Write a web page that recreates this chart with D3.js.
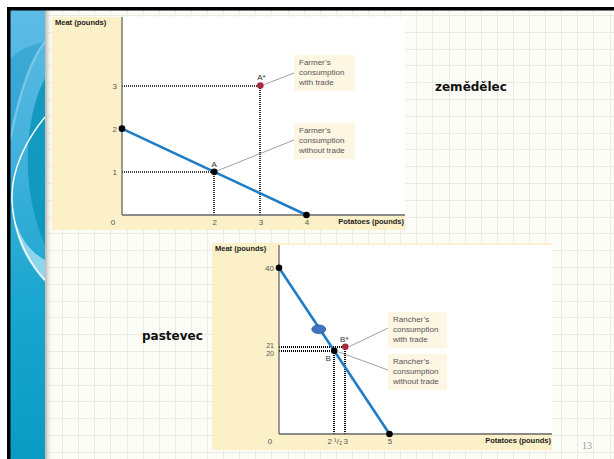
<!DOCTYPE html>
<html><head><meta charset="utf-8">
<script src="https://cdn.jsdelivr.net/npm/d3@7"></script>
<style>html,body{margin:0;padding:0;background:#fff;overflow:hidden}svg{display:block}</style>
</head><body>
<script>
// ---------- data ----------
const farmerPPF = [{x:0, y:2}, {x:4, y:0}];
const farmerPoints = [
  {label:"A",  x:2, y:1, trade:false},
  {label:"A*", x:3, y:3, trade:true}
];
const farmerXTicks = [2, 3, 4];
const farmerYTicks = [1, 2, 3];
const farmerCallouts = [
  {lines:["Farmer\u2019s","consumption","with trade"], trade:true},
  {lines:["Farmer\u2019s","consumption","without trade"], trade:false}
];

const rancherPPF = [{x:0, y:40}, {x:5, y:0}];
const rancherPoints = [
  {label:"B",  x:2.5, y:20, trade:false},
  {label:"B*", x:3,   y:21, trade:true}
];
const rancherXTicks = [2.5, 3, 5];
const rancherXTickLabels = ["2 \u00B9/\u2082", "3", "5"];
const rancherYTicks = [20, 21, 40];
const rancherCallouts = [
  {lines:["Rancher\u2019s","consumption","with trade"], trade:true},
  {lines:["Rancher\u2019s","consumption","without trade"], trade:false}
];
const titles = {farmer:"zemědělec", rancher:"pastevec"};
const pageNumber = "13";

// ---------- setup ----------
const W = 614, H = 459;
const svg = d3.select("body").append("svg").attr("width", W).attr("height", H);
const defs = svg.append("defs");

// slide background
svg.append("rect").attr("width", W).attr("height", H).attr("fill", "#ffffff");
svg.append("rect").attr("x", 10).attr("y", 10).attr("width", W-10).attr("height", H-10).attr("fill", "#fdfdf7");
const grid = svg.append("g").attr("stroke", "#ebebe3").attr("stroke-width", 1);
for (let x = 46; x < W; x += 16.1) grid.append("line").attr("x1", Math.round(x)+0.5).attr("x2", Math.round(x)+0.5).attr("y1", 10).attr("y2", H);
for (let y = 15; y < H; y += 16.8) grid.append("line").attr("y1", Math.round(y)+0.5).attr("y2", Math.round(y)+0.5).attr("x1", 45).attr("x2", W);

// left decorative strip
const lg = defs.append("linearGradient").attr("id","strip").attr("x1",0).attr("y1",0).attr("x2",0).attr("y2",1);
lg.append("stop").attr("offset","0%").attr("stop-color","#5dbce5");
lg.append("stop").attr("offset","30%").attr("stop-color","#44b2dc");
lg.append("stop").attr("offset","65%").attr("stop-color","#1aa6cf");
lg.append("stop").attr("offset","100%").attr("stop-color","#0a9bc2");
svg.append("rect").attr("x", 10).attr("y", 10).attr("width", 35).attr("height", H-10).attr("fill", "url(#strip)");
// darker teal lens on the right
svg.append("path").attr("d","M45,78 C24,118 20,190 45,245 Z").attr("fill","#0b95bb").attr("opacity",0.85);
// darker area on upper left
svg.append("path").attr("d","M10,60 C18,50 30,45 45,42 C30,60 18,100 10,140 Z").attr("fill","#2c9fcb").attr("opacity",0.6);
svg.append("path").attr("d","M45,42 C30,60 18,100 10,140").attr("fill","none").attr("stroke","#8fd3ee").attr("stroke-width",2.2).attr("opacity",0.7);
// light cyan band and white arc
svg.append("path").attr("d","M12,205 C16,235 30,252 45,260 L45,282 C28,264 14,240 12,205 Z").attr("fill","#a9e1f1").attr("opacity",0.8);
svg.append("path").attr("d","M45,117 C26,140 11,170 12,200 C13,232 28,262 45,280").attr("fill","none").attr("stroke","#ffffff").attr("stroke-width",1.4);
const sg = defs.append("linearGradient").attr("id","shadow").attr("x1",0).attr("y1",0).attr("x2",1).attr("y2",0);
sg.append("stop").attr("offset","0%").attr("stop-color","#a9a9a0").attr("stop-opacity",0.8);
sg.append("stop").attr("offset","100%").attr("stop-color","#fdfdf7").attr("stop-opacity",0);
svg.append("rect").attr("x", 45).attr("y", 10).attr("width", 8).attr("height", H-10).attr("fill", "url(#shadow)");

// black border
svg.append("rect").attr("x", 7).attr("y", 7).attr("width", W-7).attr("height", 3.5).attr("fill", "#000");
svg.append("rect").attr("x", 7).attr("y", 7).attr("width", 3.5).attr("height", H-7).attr("fill", "#000");

// ---------- chart drawing helper ----------
const FONT = "'Liberation Sans', Arial, sans-serif";
const PANEL = "#fcf0c9", BOX = "#fdf6e2", BLUE = "#1f7dc8", RED = "#a8283c", TXT = "#555";

function drawChart(cfg) {
  const g = svg.append("g");
  g.append("rect").attr("x", cfg.panel[0]).attr("y", cfg.panel[1]).attr("width", cfg.panel[2]-cfg.panel[0]).attr("height", cfg.panel[3]-cfg.panel[1]).attr("fill", PANEL);
  const x = d3.scaleLinear().domain(cfg.xDomain).range(cfg.xRange);
  const y = d3.scaleLinear().domain(cfg.yDomain).range(cfg.yRange);
  const x0 = x(0), y0 = y(0);
  g.append("rect").attr("x", x0).attr("y", cfg.plotTop).attr("width", cfg.panel[2]-x0).attr("height", y0-cfg.plotTop).attr("fill", "#fff");

  // dotted guide lines (snapped to pixels so they stay crisp)
  const sx = v => Math.round(x(v)), sy = v => Math.round(y(v));
  cfg.points.forEach(p => {
    g.append("line").attr("x1", x0).attr("x2", sx(p.x)).attr("y1", sy(p.y)).attr("y2", sy(p.y))
      .attr("stroke", "#000").attr("stroke-width", cfg.dotW).attr("stroke-dasharray", "1,1");
    g.append("line").attr("x1", sx(p.x)).attr("x2", sx(p.x)).attr("y1", sy(p.y)).attr("y2", y0)
      .attr("stroke", "#000").attr("stroke-width", cfg.dotW).attr("stroke-dasharray", "1,1");
  });

  // axes
  g.append("line").attr("x1", x0).attr("x2", x0).attr("y1", cfg.plotTop).attr("y2", y0).attr("stroke", "#666").attr("stroke-width", 1.3);
  g.append("line").attr("x1", x0).attr("x2", cfg.panel[2]).attr("y1", y0).attr("y2", y0).attr("stroke", "#666").attr("stroke-width", 1.3);

  const xAxis = g.append("g").attr("transform", `translate(0,${y0+4})`)
    .call(d3.axisBottom(x).tickValues(cfg.xTicks).tickSize(0).tickPadding(0).tickFormat((d,i) => cfg.xTickLabels ? cfg.xTickLabels[i] : String(d)));
  const yAxis = g.append("g").attr("transform", `translate(${x0-5},0)`)
    .call(d3.axisLeft(y).tickValues(cfg.yTicks).tickSize(0).tickPadding(0).tickFormat(d => String(d)));
  [xAxis, yAxis].forEach(a => {
    a.select(".domain").remove();
    a.selectAll("text").attr("fill", TXT).style("font-family", FONT).style("font-size", "8px");
  });
  yAxis.selectAll("text").attr("dy", "0.35em");
  if (cfg.yTickShift) yAxis.selectAll("text").each(function(d, i) {
    d3.select(this).attr("y", cfg.yTickShift[i]).style("font-size", cfg.yTickSize[i]);
  });
  xAxis.selectAll("text").attr("dy", "0.71em");
  g.append("text").attr("x", x0-9).attr("y", y0+4).attr("dy","0.71em").attr("text-anchor","middle")
    .attr("fill", TXT).style("font-family", FONT).style("font-size", "8px").text("0");

  // axis titles
  g.append("text").attr("x", cfg.panel[0]+3).attr("y", cfg.panel[1]+8).attr("fill", "#222")
    .style("font-family", FONT).style("font-size", "7.5px").style("font-weight", "bold").text("Meat (pounds)");
  g.append("text").attr("x", cfg.panel[2]-1).attr("y", y0+4).attr("dy","0.71em").attr("text-anchor", "end").attr("fill", "#222")
    .style("font-family", FONT).style("font-size", "7.5px").style("font-weight", "bold").text("Potatoes (pounds)");

  // PPF line
  g.append("path").datum(cfg.ppf).attr("d", d3.line().x(d => x(d.x)).y(d => y(d.y)))
    .attr("stroke", BLUE).attr("stroke-width", 2.6).attr("fill", "none");
  g.selectAll(".end").data(cfg.ppf).join("circle").attr("cx", d => x(d.x)).attr("cy", d => y(d.y)).attr("r", 3.3).attr("fill", "#000");

  // callouts
  cfg.callouts.forEach((c, i) => {
    const b = cfg.boxes[i];
    const p = cfg.points.find(q => q.trade === c.trade);
    g.append("line").attr("x1", x(p.x) + b.lx).attr("y1", y(p.y) + b.ly).attr("x2", b.x).attr("y2", b.y + b.ay)
      .attr("stroke", "#888").attr("stroke-width", 0.8);
    g.append("rect").attr("x", b.x).attr("y", b.y).attr("width", b.w).attr("height", b.h).attr("fill", BOX);
    c.lines.forEach((t, k) => g.append("text").attr("x", b.x + 5).attr("y", b.y + 10 + k*10).attr("fill", TXT)
      .style("font-family", FONT).style("font-size", "8px").text(t));
  });

  // points
  cfg.points.forEach(p => {
    g.append("circle").attr("cx", x(p.x)).attr("cy", y(p.y)).attr("r", 3.3).attr("fill", p.trade ? RED : "#000");
    g.append("text").attr("x", x(p.x) + p.tx).attr("y", y(p.y) + p.ty).attr("text-anchor", "middle").attr("fill", "#333")
      .style("font-family", FONT).style("font-size", "8px").text(p.label);
  });
  return {x, y, g};
}

// farmer chart
drawChart({
  panel:[52, 17, 405, 230], plotTop:17,
  xDomain:[0,4], xRange:[122,306.5], yDomain:[0,3], yRange:[215,85.5],
  xTicks: farmerXTicks, yTicks: farmerYTicks, ppf: farmerPPF, dotW:1.6,
  points: farmerPoints.map(p => Object.assign({}, p, p.trade ? {tx:1, ty:-6} : {tx:0, ty:-5})),
  callouts: farmerCallouts,
  boxes:[{x:294, y:55, w:61, h:36, lx:4, ly:-1, ay:18}, {x:294, y:123, w:61, h:36, lx:3, ly:-1, ay:17}]
});

// rancher chart
const r = drawChart({
  panel:[212, 243, 552, 450], plotTop:245,
  xDomain:[0,5], xRange:[279,389.5], yDomain:[0,40], yRange:[434,267.7],
  xTicks: rancherXTicks, xTickLabels: rancherXTickLabels, yTicks: rancherYTicks, ppf: rancherPPF, dotW:2,
  yTickShift:[1.8, -1.8, 0], yTickSize:["7px","7px","8px"],
  points: rancherPoints.map(p => Object.assign({}, p, p.trade ? {tx:-1, ty:-5} : {tx:-6, ty:10})),
  callouts: rancherCallouts,
  boxes:[{x:388, y:312, w:59, h:36, lx:4, ly:0, ay:16}, {x:388, y:354, w:59, h:36, lx:4, ly:1, ay:16}]
});
// blue ellipse marker on the rancher line
r.g.append("ellipse").attr("cx", r.x(1.8)).attr("cy", r.y(25.2)).attr("rx", 7).attr("ry", 4.3)
  .attr("fill", "#3e74c2").attr("stroke", "#2a5597").attr("stroke-width", 0.8);

// slide labels
svg.append("text").attr("x", 435).attr("y", 91).attr("fill", "#111").style("font-family", "'DejaVu Sans', Verdana, sans-serif")
  .style("font-size", "12px").style("font-weight", "bold").text(titles.farmer);
svg.append("text").attr("x", 142).attr("y", 340).attr("fill", "#111").style("font-family", "'DejaVu Sans', Verdana, sans-serif")
  .style("font-size", "12px").style("font-weight", "bold").text(titles.rancher);
svg.append("text").attr("x", 582).attr("y", 449).attr("fill", "#9a9a9a").style("font-family", "'Liberation Serif', serif")
  .style("font-size", "10px").text(pageNumber);
</script>
</body></html>
